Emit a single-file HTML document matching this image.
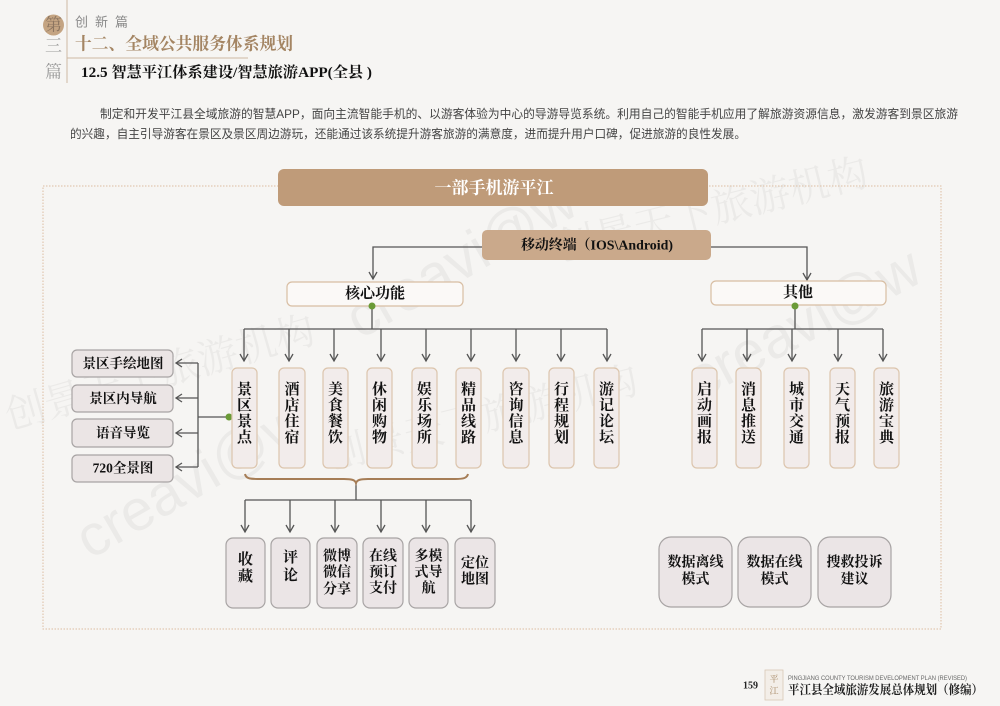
<!DOCTYPE html>
<html><head><meta charset="utf-8"><style>
html,body{margin:0;padding:0;background:#f6f5f3;}
#wrap{position:relative;width:1000px;height:706px;overflow:hidden;background:#f6f5f3;}
svg{position:absolute;left:0;top:0;}
.sf{font-family:"Liberation Serif","Noto Serif CJK SC",serif;font-weight:bold;}
.ss{font-family:"Liberation Sans","Noto Sans CJK SC",sans-serif;}
</style></head><body><div id="wrap">
<svg width="1000" height="706" viewBox="0 0 1000 706" xmlns="http://www.w3.org/2000/svg">
<!-- watermarks -->
<g fill="#000" fill-opacity="0.045" class="ss" font-size="58">
<text x="90" y="560" transform="rotate(-30 90 560)">creavi@w</text>
<text x="360" y="340" transform="rotate(-30 360 340)">creavi@w</text>
<text x="700" y="400" transform="rotate(-28 700 400)">creavi@w</text>
</g>
<g fill="#000" fill-opacity="0.045" font-family="Liberation Serif,Noto Serif CJK SC,serif" font-size="40">
<text x="10" y="430" transform="rotate(-16 10 430)">创景天下旅游机构</text>
<text x="560" y="262" transform="rotate(-14 560 262)">创景天下旅游机构</text>
<text x="330" y="470" transform="rotate(-14 330 470)">创景天下旅游机构</text>
</g>

<!-- page header -->
<line x1="67" y1="0" x2="67" y2="83" stroke="#cdb9a3" stroke-width="1"/>
<line x1="67" y1="58" x2="248" y2="58" stroke="#cdb9a3" stroke-width="1"/>
<circle cx="53.5" cy="25" r="10.5" fill="#c4a482"/>
<text x="53.5" y="25" text-anchor="middle" dominant-baseline="central" font-size="17" fill="#8c7560" font-family="Liberation Serif,Noto Serif CJK SC,serif">第</text>
<text x="53.5" y="46" text-anchor="middle" dominant-baseline="central" font-size="17" fill="#9a9a9a" font-family="Liberation Serif,Noto Serif CJK SC,serif">三</text>
<text x="53.5" y="72" text-anchor="middle" dominant-baseline="central" font-size="17" fill="#9a9a9a" font-family="Liberation Serif,Noto Serif CJK SC,serif">篇</text>
<text x="75" y="22" dominant-baseline="central" font-size="13" fill="#8a8a8a" class="ss" textLength="53" lengthAdjust="spacing">创新篇</text>
<text x="75" y="44" dominant-baseline="central" font-size="17" fill="#a48563" class="sf" textLength="218" lengthAdjust="spacingAndGlyphs">十二、全域公共服务体系规划</text>
<text x="81" y="73" dominant-baseline="central" font-size="15" fill="#111" class="sf" textLength="291" lengthAdjust="spacingAndGlyphs">12.5 智慧平江体系建设/智慧旅游APP(全县 )</text>

<text x="100" y="114" dominant-baseline="central" font-size="12" fill="#444" class="ss" textLength="858" lengthAdjust="spacingAndGlyphs">制定和开发平江县全域旅游的智慧APP，面向主流智能手机的、以游客体验为中心的导游导览系统。利用自己的智能手机应用了解旅游资源信息，激发游客到景区旅游</text>
<text x="70" y="134" dominant-baseline="central" font-size="12" fill="#444" class="ss" textLength="676" lengthAdjust="spacingAndGlyphs">的兴趣，自主引导游客在景区及景区周边游玩，还能通过该系统提升游客旅游的满意度，进而提升用户口碑，促进旅游的良性发展。</text>

<!-- dotted frame -->
<rect x="43" y="186" width="898" height="443" fill="none" stroke="#dcbda2" stroke-width="1" stroke-dasharray="1.5 1.5"/>

<!-- header bar -->
<rect x="278" y="169" width="430" height="37" rx="6" fill="#bf9b79"/>
<text x="494" y="188" text-anchor="middle" dominant-baseline="central" font-size="17" fill="#fff" class="sf">一部手机游平江</text>

<!-- terminal -->
<rect x="482" y="230" width="229" height="30" rx="5" fill="#caa98b"/>
<text x="597" y="246" text-anchor="middle" dominant-baseline="central" font-size="14" fill="#111" class="sf" textLength="152" lengthAdjust="spacingAndGlyphs">移动终端（IOS\Android)</text>

<g stroke="#555" stroke-width="1.3" fill="none">
<polyline points="482,247 373,247 373,279"/>
<polyline points="369,272 373,279 377,272"/>
<polyline points="711,247 807,247 807,280"/>
<polyline points="803,273 807,280 811,273"/>

<line x1="372" y1="306" x2="372" y2="329"/>
<line x1="244" y1="329" x2="607" y2="329"/>
<line x1="244" y1="329" x2="244" y2="361"/><polyline points="240,354 244,361 248,354"/>
<line x1="289" y1="329" x2="289" y2="361"/><polyline points="285,354 289,361 293,354"/>
<line x1="334" y1="329" x2="334" y2="361"/><polyline points="330,354 334,361 338,354"/>
<line x1="381" y1="329" x2="381" y2="361"/><polyline points="377,354 381,361 385,354"/>
<line x1="426" y1="329" x2="426" y2="361"/><polyline points="422,354 426,361 430,354"/>
<line x1="471" y1="329" x2="471" y2="361"/><polyline points="467,354 471,361 475,354"/>
<line x1="516" y1="329" x2="516" y2="361"/><polyline points="512,354 516,361 520,354"/>
<line x1="561" y1="329" x2="561" y2="361"/><polyline points="557,354 561,361 565,354"/>
<line x1="607" y1="329" x2="607" y2="361"/><polyline points="603,354 607,361 611,354"/>

<line x1="795" y1="306" x2="795" y2="329"/>
<line x1="702" y1="329" x2="883" y2="329"/>
<line x1="702" y1="329" x2="702" y2="361"/><polyline points="698,354 702,361 706,354"/>
<line x1="747" y1="329" x2="747" y2="361"/><polyline points="743,354 747,361 751,354"/>
<line x1="792" y1="329" x2="792" y2="361"/><polyline points="788,354 792,361 796,354"/>
<line x1="838" y1="329" x2="838" y2="361"/><polyline points="834,354 838,361 842,354"/>
<line x1="883" y1="329" x2="883" y2="361"/><polyline points="879,354 883,361 887,354"/>

<line x1="229" y1="417" x2="198" y2="417"/>
<line x1="198" y1="363" x2="198" y2="467"/>
<line x1="198" y1="363" x2="176" y2="363"/><polyline points="182,359 176,363 182,367"/>
<line x1="198" y1="398" x2="176" y2="398"/><polyline points="182,394 176,398 182,402"/>
<line x1="198" y1="433" x2="176" y2="433"/><polyline points="182,429 176,433 182,437"/>
<line x1="198" y1="467" x2="176" y2="467"/><polyline points="182,463 176,467 182,471"/>

<line x1="356" y1="483" x2="356" y2="500"/>
<line x1="245" y1="500" x2="471" y2="500"/>
<line x1="245" y1="500" x2="245" y2="532"/><polyline points="241,525 245,532 249,525"/>
<line x1="290" y1="500" x2="290" y2="532"/><polyline points="286,525 290,532 294,525"/>
<line x1="335" y1="500" x2="335" y2="532"/><polyline points="331,525 335,532 339,525"/>
<line x1="381" y1="500" x2="381" y2="532"/><polyline points="377,525 381,532 385,525"/>
<line x1="426" y1="500" x2="426" y2="532"/><polyline points="422,525 426,532 430,525"/>
<line x1="471" y1="500" x2="471" y2="532"/><polyline points="467,525 471,532 475,525"/>
</g>

<path d="M245,474 C246,479 250,479 262,479 L344,479 C352,479 355,480 356,483 C357,480 360,479 368,479 L455,479 C464,479 467,478 468,474" fill="none" stroke="#a67d56" stroke-width="2"/>

<rect x="287" y="282" width="176" height="24" rx="5" fill="#fbf9f7" stroke="#d8bea3" stroke-width="1.2"/>
<text x="375" y="294" text-anchor="middle" dominant-baseline="central" font-size="15" fill="#111" class="sf">核心功能</text>
<rect x="711" y="281" width="175" height="24" rx="5" fill="#fbf9f7" stroke="#d8bea3" stroke-width="1.2"/>
<text x="798" y="293" text-anchor="middle" dominant-baseline="central" font-size="15" fill="#111" class="sf">其他</text>
<circle cx="372" cy="306" r="3.5" fill="#6b9b37"/>
<circle cx="795" cy="306" r="3.5" fill="#6b9b37"/>
<circle cx="229" cy="417" r="3.5" fill="#6b9b37"/>

<g fill="#f2eceb" stroke="#dcc5ad" stroke-width="1.2">
<rect x="232" y="368" width="25" height="100" rx="5"/>
<rect x="279" y="368" width="26" height="100" rx="5"/>
<rect x="323" y="368" width="25" height="100" rx="5"/>
<rect x="367" y="368" width="25" height="100" rx="5"/>
<rect x="412" y="368" width="25" height="100" rx="5"/>
<rect x="456" y="368" width="25" height="100" rx="5"/>
<rect x="503" y="368" width="26" height="100" rx="5"/>
<rect x="549" y="368" width="25" height="100" rx="5"/>
<rect x="594" y="368" width="25" height="100" rx="5"/>
<rect x="692" y="368" width="25" height="100" rx="5"/>
<rect x="736" y="368" width="25" height="100" rx="5"/>
<rect x="784" y="368" width="25" height="100" rx="5"/>
<rect x="830" y="368" width="25" height="100" rx="5"/>
<rect x="874" y="368" width="25" height="100" rx="5"/>
</g>
<g font-size="15" fill="#111" class="sf" text-anchor="middle" dominant-baseline="central">
<text x="244.5" y="390">景</text><text x="244.5" y="406">区</text><text x="244.5" y="422">景</text><text x="244.5" y="438">点</text>
<text x="292" y="390">酒</text><text x="292" y="406">店</text><text x="292" y="422">住</text><text x="292" y="438">宿</text>
<text x="335.5" y="390">美</text><text x="335.5" y="406">食</text><text x="335.5" y="422">餐</text><text x="335.5" y="438">饮</text>
<text x="379.5" y="390">休</text><text x="379.5" y="406">闲</text><text x="379.5" y="422">购</text><text x="379.5" y="438">物</text>
<text x="424.5" y="390">娱</text><text x="424.5" y="406">乐</text><text x="424.5" y="422">场</text><text x="424.5" y="438">所</text>
<text x="468.5" y="390">精</text><text x="468.5" y="406">品</text><text x="468.5" y="422">线</text><text x="468.5" y="438">路</text>
<text x="516" y="390">咨</text><text x="516" y="406">询</text><text x="516" y="422">信</text><text x="516" y="438">息</text>
<text x="561.5" y="390">行</text><text x="561.5" y="406">程</text><text x="561.5" y="422">规</text><text x="561.5" y="438">划</text>
<text x="606.5" y="390">游</text><text x="606.5" y="406">记</text><text x="606.5" y="422">论</text><text x="606.5" y="438">坛</text>
<text x="704.5" y="390">启</text><text x="704.5" y="406">动</text><text x="704.5" y="422">画</text><text x="704.5" y="438">报</text>
<text x="748.5" y="390">消</text><text x="748.5" y="406">息</text><text x="748.5" y="422">推</text><text x="748.5" y="438">送</text>
<text x="796.5" y="390">城</text><text x="796.5" y="406">市</text><text x="796.5" y="422">交</text><text x="796.5" y="438">通</text>
<text x="842.5" y="390">天</text><text x="842.5" y="406">气</text><text x="842.5" y="422">预</text><text x="842.5" y="438">报</text>
<text x="886.5" y="390">旅</text><text x="886.5" y="406">游</text><text x="886.5" y="422">宝</text><text x="886.5" y="438">典</text>
</g>

<g fill="#ebe5e5" stroke="#a8a4a4" stroke-width="1.2">
<rect x="72" y="350" width="101" height="27" rx="5"/>
<rect x="72" y="385" width="101" height="27" rx="5"/>
<rect x="72" y="419" width="101" height="28" rx="5"/>
<rect x="72" y="455" width="101" height="27" rx="5"/>
</g>
<g font-size="13.5" fill="#111" class="sf" text-anchor="middle" dominant-baseline="central">
<text x="123" y="363.5">景区手绘地图</text>
<text x="123" y="398.5">景区内导航</text>
<text x="123" y="433">语音导览</text>
<text x="123" y="468">720全景图</text>
</g>

<g fill="#ebe5e6" stroke="#a8a4a4" stroke-width="1.2">
<rect x="226" y="538" width="39" height="70" rx="7"/>
<rect x="271" y="538" width="39" height="70" rx="7"/>
<rect x="317" y="538" width="40" height="70" rx="7"/>
<rect x="363" y="538" width="40" height="70" rx="7"/>
<rect x="409" y="538" width="39" height="70" rx="7"/>
<rect x="455" y="538" width="40" height="70" rx="7"/>
<rect x="659" y="537" width="73" height="70" rx="12"/>
<rect x="738" y="537" width="73" height="70" rx="12"/>
<rect x="818" y="537" width="73" height="70" rx="12"/>
</g>
<g font-size="14" fill="#111" class="sf" text-anchor="middle" dominant-baseline="central">
<text x="245.5" y="560" font-size="15">收</text><text x="245.5" y="577" font-size="15">藏</text>
<text x="290.5" y="558" font-size="15">评</text><text x="290.5" y="576" font-size="15">论</text>
<text x="337" y="557">微博</text><text x="337" y="573">微信</text><text x="337" y="590">分享</text>
<text x="383" y="557">在线</text><text x="383" y="573">预订</text><text x="383" y="589">支付</text>
<text x="428.5" y="557">多模</text><text x="428.5" y="573">式导</text><text x="428.5" y="589">航</text>
<text x="475" y="564">定位</text><text x="475" y="580">地图</text>
<text x="695.5" y="563">数据离线</text><text x="695.5" y="580">模式</text>
<text x="774.5" y="563">数据在线</text><text x="774.5" y="580">模式</text>
<text x="854.5" y="563">搜救投诉</text><text x="854.5" y="580">建议</text>
</g>

<text x="743" y="686" dominant-baseline="central" font-size="10" fill="#222" class="sf">159</text>
<rect x="765" y="670" width="18" height="30" fill="#f3eee8" stroke="#d9c8b4" stroke-width="0.8"/>
<text x="774" y="679" text-anchor="middle" dominant-baseline="central" font-size="9" fill="#a4845f" font-family="Liberation Serif,Noto Serif CJK SC,serif">平</text>
<text x="774" y="691" text-anchor="middle" dominant-baseline="central" font-size="9" fill="#a4845f" font-family="Liberation Serif,Noto Serif CJK SC,serif">江</text>
<text x="788" y="679" dominant-baseline="central" font-size="6" fill="#666" class="ss" textLength="179" lengthAdjust="spacingAndGlyphs">PINGJIANG COUNTY TOURISM DEVELOPMENT PLAN (REVISED)</text>
<text x="788" y="690" dominant-baseline="central" font-size="12.5" fill="#222" class="sf" textLength="195" lengthAdjust="spacingAndGlyphs">平江县全域旅游发展总体规划（修编）</text>
</svg>
</div></body></html>
